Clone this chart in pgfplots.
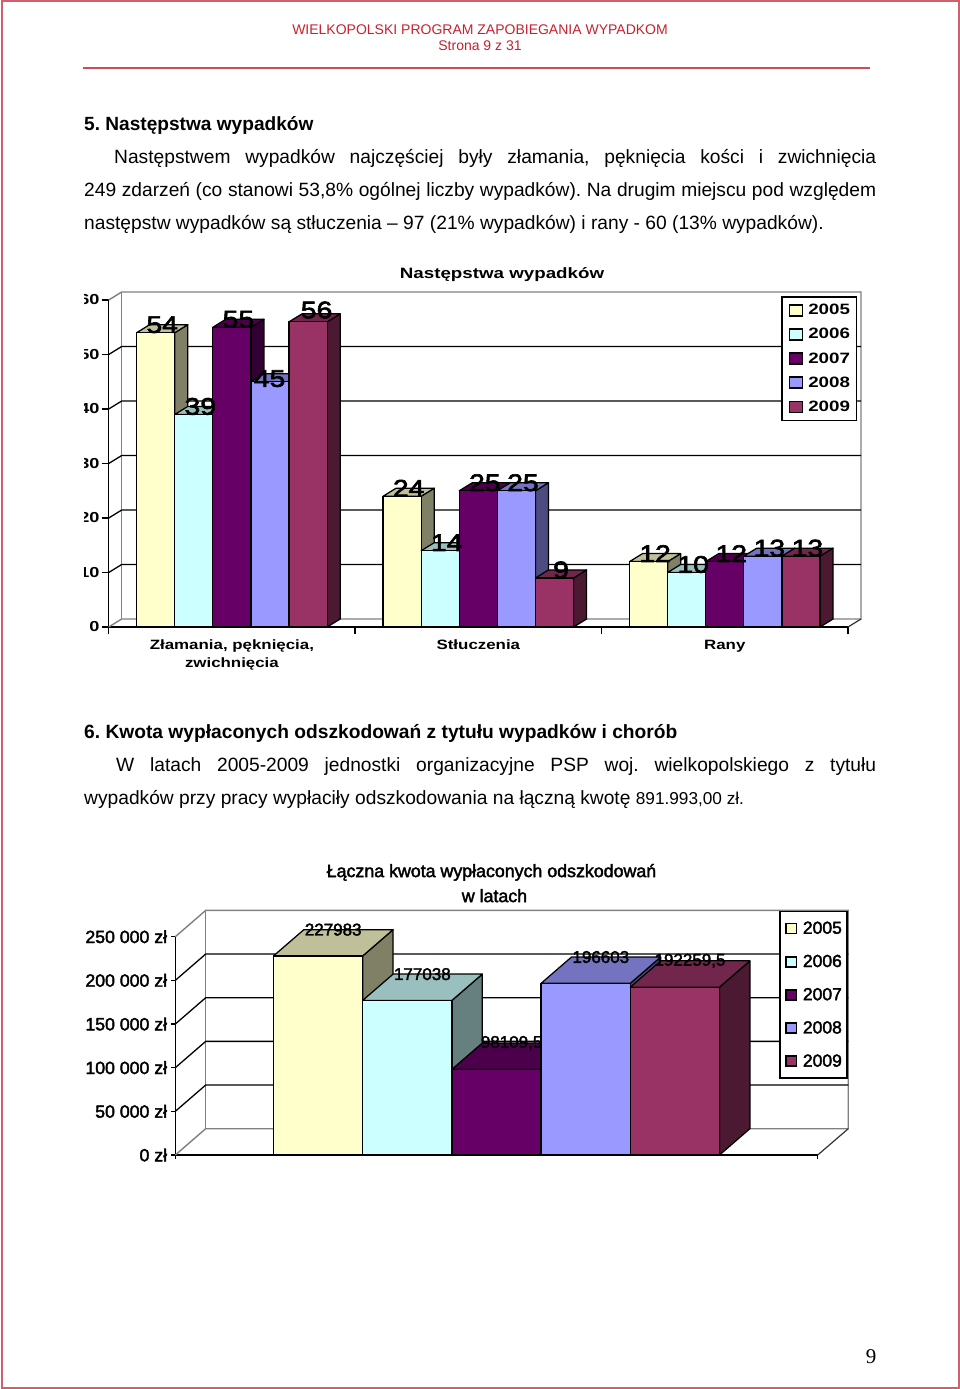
\documentclass[border=0pt]{standalone}
\usepackage{fontspec}
\usepackage{pgfplots}
\pgfplotsset{compat=1.18}
\setmainfont{Liberation Sans}
\newfontfamily\serifnum{Liberation Serif}
\newfontfamily\wideb[FakeStretch=1.25]{Liberation Sans Bold}
\newfontfamily\widev[FakeStretch=1.18,FakeBold=2.6]{Liberation Sans}
\newfontfamily\plainv[FakeBold=2.2]{Liberation Sans}
\definecolor{cA}{HTML}{FFFFCC}
\definecolor{cB}{HTML}{CCFFFF}
\definecolor{cC}{HTML}{660066}
\definecolor{cD}{HTML}{9999FF}
\definecolor{cE}{HTML}{993366}
\definecolor{wall}{HTML}{808080}
\definecolor{hdr}{HTML}{C8202F}
\definecolor{edge}{HTML}{D0606E}
\newcommand{\fs}[1]{\fontsize{#1}{#1}\selectfont}
% one box: left x, value, value + depth, width, dx, dy, colour
\newcommand{\boxthree}[7]{%
  \pgfmathsetmacro{\xb}{#1+#4}%
  \pgfmathsetmacro{\xc}{#1+#4+#5}%
  \pgfmathsetmacro{\xd}{#1+#5}%
  \addplot[forget plot,draw=black,line width=1.25pt,line join=round,fill=#7!50!black] coordinates {(\xb,0) (\xc,#6) (\xc,#3) (\xb,#2)} --cycle;
  \addplot[forget plot,draw=black,line width=1.25pt,line join=round,fill=#7!75!black] coordinates {(#1,#2) (\xb,#2) (\xc,#3) (\xd,#3)} --cycle;
  \addplot[forget plot,draw=black,line width=1.25pt,line join=round,fill=#7] coordinates {(#1,0) (\xb,0) (\xb,#2) (#1,#2)} --cycle;
}
% first chart: series number, colour, values of the three groups
\newcommand{\seriesA}[5]{%
  \pgfmathsetmacro{\xa}{0-0.3865+#1*0.1546}\pgfmathsetmacro{\vd}{#3+1.468}%
  \edef\tmp{\noexpand\boxthree{\xa}{#3}{\vd}{0.1546}{0.05276}{1.468}{#2}}\tmp
  \pgfmathsetmacro{\xa}{1-0.3865+#1*0.1546}\pgfmathsetmacro{\vd}{#4+1.468}%
  \edef\tmp{\noexpand\boxthree{\xa}{#4}{\vd}{0.1546}{0.05276}{1.468}{#2}}\tmp
  \pgfmathsetmacro{\xa}{2-0.3865+#1*0.1546}\pgfmathsetmacro{\vd}{#5+1.468}%
  \edef\tmp{\noexpand\boxthree{\xa}{#5}{\vd}{0.1546}{0.05276}{1.468}{#2}}\tmp
}
% labels: series number, three values, x and y nudge of the first label
\newcommand{\labelsA}[6]{%
  \pgfmathsetmacro{\xa}{0-0.3865+#1*0.1546+0.0773+0.0264+#5}\pgfmathsetmacro{\vd}{#2+1.468+#6}%
  \pgfmathsetmacro{\xe}{1-0.3865+#1*0.1546+0.0773+0.0264}\pgfmathsetmacro{\ve}{#3+1.468}%
  \pgfmathsetmacro{\xf}{2-0.3865+#1*0.1546+0.0773+0.0264}\pgfmathsetmacro{\vf}{#4+1.468}%
  \addplot[forget plot,draw=none,mark=none,nodes near coords,point meta=explicit symbolic] coordinates {(\xa,\vd) [#2] (\xe,\ve) [#3] (\xf,\vf) [#4]};
}
\begin{document}
\frenchspacing
\begin{tikzpicture}[x=1pt,y=-1pt]
\useasboundingbox (0,0) rectangle (960,1389);
\fill[white] (0,0) rectangle (960,1389);
\draw[edge,line width=2pt] (1.5,1.5) rectangle (958.5,1387.5);
% page text
\node[anchor=base,inner sep=0pt,text=hdr] at (480,35) {\fs{14}WIELKOPOLSKI PROGRAM ZAPOBIEGANIA WYPADKOM};
\node[anchor=base,inner sep=0pt,text=hdr] at (480,51) {\fs{14}Strona 9 z 31};
\draw[edge!70!hdr,line width=1.5pt] (83,68) -- (870,68);
\node[anchor=base west,inner sep=0pt] at (84,130) {\fs{19.1}\bfseries 5. Następstwa wypadków};
\node[anchor=base west,inner sep=0pt] at (114,163) {\fs{19.2}\makebox[762pt][s]{Następstwem wypadków najczęściej były złamania, pęknięcia kości i zwichnięcia}};
\node[anchor=base west,inner sep=0pt] at (84,196) {\fs{19.2}\makebox[792pt][s]{249 zdarzeń (co stanowi 53,8\% ogólnej liczby wypadków). Na drugim miejscu pod względem}};
\node[anchor=base west,inner sep=0pt] at (84,229) {\fs{19.2}następstw wypadków są stłuczenia – 97 (21\% wypadków) i rany - 60 (13\% wypadków).};
\node[anchor=base west,inner sep=0pt] at (84,738) {\fs{19.2}\bfseries 6. Kwota wypłaconych odszkodowań z tytułu wypadków i chorób};
\node[anchor=base west,inner sep=0pt] at (116,771) {\fs{19.2}\makebox[760pt][s]{W latach 2005-2009 jednostki organizacyjne PSP woj. wielkopolskiego z tytułu}};
\node[anchor=base west,inner sep=0pt] at (84,804) {\fs{19.2}wypadków przy pracy wypłaciły odszkodowania na łączną kwotę {\fs{17.2}891.993,00 zł.}};
\node[anchor=base,inner sep=0pt] at (871,1363) {\fs{21}\serifnum 9};

% first chart
\begin{axis}[
  at={(108.7pt,-627pt)},anchor=south west,
  scale only axis,width=739.3pt,height=327pt,clip=false,
  xmin=-0.5,xmax=2.5,ymin=0,ymax=60,
  axis lines=left,axis line style={-,black,line width=1.3pt},
  tick style={black,line width=1.3pt},major tick length=7pt,tick align=outside,
  xtick={-0.5,0.5,1.5,2.5},xticklabels={},
  extra x ticks={0,1,2},
  extra x tick labels={{Złamania, pęknięcia,\\zwichnięcia},Stłuczenia,Rany},
  extra x tick style={tick style={draw=none},xticklabel style={align=center,font=\wideb\fontsize{13.5}{18}\selectfont,inner sep=0pt,yshift=-6pt}},
  ytick={0,10,20,30,40,50,60},
  yticklabel style={font=\wideb\fs{14.5},inner sep=2pt},
  /pgf/number format/assume math mode=true,
  title={Następstwa wypadków},
  title style={at={(axis description cs:0.532,1.0582)},anchor=center,font=\wideb\fs{15},inner sep=0pt},
  every node near coord/.append style={anchor=center,inner sep=0pt,font=\widev\fs{24},text=black},
  legend cell align=left,
  legend image code/.code={\draw[#1] (0pt,-5.5pt) rectangle (13pt,5.5pt);\path (18pt,0pt);},
  legend style={at={(axis description cs:1.0126,1.0122)},anchor=north east,draw=black,line width=1.7pt,
    font=\wideb\fs{15},row sep=11.5pt,inner xsep=6.5pt,inner ysep=7pt,nodes={inner sep=0pt,line width=1pt}},
]
% walls and grid
\addplot[forget plot,wall,line width=1.4pt] coordinates {(-0.5,0) (-0.4472,1.468) (2.5528,1.468) (2.5528,61.468) (-0.4472,61.468) (-0.5,60)};
\addplot[forget plot,wall,line width=1.4pt] coordinates {(-0.4472,1.468) (-0.4472,61.468)};
\addplot[forget plot,black!80,line width=1.2pt] coordinates {(2.5,0) (2.5528,1.468)};
\addplot[forget plot,black,line width=1.3pt] coordinates {(-0.5,10) (-0.4472,11.468) (2.5528,11.468)};
\addplot[forget plot,black,line width=1.3pt] coordinates {(-0.5,20) (-0.4472,21.468) (2.5528,21.468)};
\addplot[forget plot,black,line width=1.3pt] coordinates {(-0.5,30) (-0.4472,31.468) (2.5528,31.468)};
\addplot[forget plot,black,line width=1.3pt] coordinates {(-0.5,40) (-0.4472,41.468) (2.5528,41.468)};
\addplot[forget plot,black,line width=1.3pt] coordinates {(-0.5,50) (-0.4472,51.468) (2.5528,51.468)};
% bars: 2005 to 2009, in the groups Złamania, Stłuczenia, Rany
\seriesA{0}{cA}{54}{24}{12}
\seriesA{1}{cB}{39}{14}{10}
\seriesA{2}{cC}{55}{25}{12}
\seriesA{3}{cD}{45}{25}{13}
\seriesA{4}{cE}{56}{9}{13}
\labelsA{0}{54}{24}{12}{0}{0}
\labelsA{1}{39}{14}{10}{0}{0}
\labelsA{2}{55}{25}{12}{0}{0}
\labelsA{3}{45}{25}{13}{-0.028}{-0.9}
\labelsA{4}{56}{9}{13}{0.008}{0.7}
\addlegendimage{draw=black,fill=cA}\addlegendentry{2005}
\addlegendimage{draw=black,fill=cB}\addlegendentry{2006}
\addlegendimage{draw=black,fill=cC}\addlegendentry{2007}
\addlegendimage{draw=black,fill=cD}\addlegendentry{2008}
\addlegendimage{draw=black,fill=cE}\addlegendentry{2009}
\end{axis}
% the reference's picture is cut off here
\fill[white] (70,285) rectangle (83.5,590);

% second chart
\begin{axis}[
  at={(175.3pt,-1155pt)},anchor=south west,
  scale only axis,width=642.4pt,height=218.3pt,clip=false,
  xmin=-0.5,xmax=0.5,ymin=0,ymax=250000,
  scaled y ticks=false,
  axis lines=left,axis line style={-,black,line width=1.3pt},
  tick style={black,line width=1.3pt},major tick length=4pt,tick align=outside,
  xtick={-0.5,0.5},xticklabels={},
  ytick={0,50000,100000,150000,200000,250000},
  yticklabels={0 zł,50 000 zł,100 000 zł,150 000 zł,200 000 zł,250 000 zł},
  yticklabel style={font=\plainv\fs{17.7},inner sep=2pt,xshift=-2pt},
  title={Łączna kwota wypłaconych odszkodowań\\\hspace*{6pt}w latach},
  title style={at={(axis description cs:0.4922,1.218)},anchor=center,align=center,font=\plainv\fontsize{17.8}{25}\selectfont,inner sep=0pt},
  every node near coord/.append style={anchor=center,inner sep=0pt,font=\plainv\fs{17},text=black},
  legend cell align=left,
  legend image code/.code={\draw[#1] (0pt,-5pt) rectangle (10.5pt,5pt);\path (16pt,0pt);},
  legend style={at={(axis description cs:1.0467,1.119)},anchor=north east,draw=black,line width=1.7pt,
    font=\plainv\fs{17.5},row sep=19.5pt,inner xsep=5pt,inner ysep=10pt,nodes={inner sep=0pt,line width=1pt}},
]
\addplot[forget plot,wall,line width=1.4pt] coordinates {(-0.5,0) (-0.4527,30119) (0.5476,30119) (0.5476,280119) (-0.4527,280119) (-0.5,250000)};
\addplot[forget plot,wall,line width=1.4pt] coordinates {(-0.4527,30119) (-0.4527,280119)};
\addplot[forget plot,black!80,line width=1.2pt] coordinates {(0.5,0) (0.5476,30119)};
\addplot[forget plot,black,line width=1.3pt] coordinates {(-0.5,50000) (-0.4527,80119) (0.5476,80119)};
\addplot[forget plot,black,line width=1.3pt] coordinates {(-0.5,100000) (-0.4527,130119) (0.5476,130119)};
\addplot[forget plot,black,line width=1.3pt] coordinates {(-0.5,150000) (-0.4527,180119) (0.5476,180119)};
\addplot[forget plot,black,line width=1.3pt] coordinates {(-0.5,200000) (-0.4527,230119) (0.5476,230119)};
\boxthree{-0.34713}{227983}{258102}{0.13885}{0.04732}{30119}{cA}
\boxthree{-0.20828}{177038}{207157}{0.13885}{0.04732}{30119}{cB}
\boxthree{-0.06943}{98109.5}{128228.5}{0.13885}{0.04732}{30119}{cC}
\boxthree{0.06942}{196603}{226722}{0.13885}{0.04732}{30119}{cD}
\boxthree{0.20827}{192259.5}{222378.5}{0.13885}{0.04732}{30119}{cE}
\addplot[forget plot,draw=none,mark=none,nodes near coords,point meta=explicit symbolic] coordinates {
 (-0.2542,258102) [227983]
 (-0.1154,207157) [177038]
 (0.0235,128228.5) [{98109,5}]
 (0.1624,226722) [196603]
 (0.3012,222378.5) [{192259,5}]
};
\addlegendimage{draw=black,fill=cA}\addlegendentry{2005}
\addlegendimage{draw=black,fill=cB}\addlegendentry{2006}
\addlegendimage{draw=black,fill=cC}\addlegendentry{2007}
\addlegendimage{draw=black,fill=cD}\addlegendentry{2008}
\addlegendimage{draw=black,fill=cE}\addlegendentry{2009}
\end{axis}
\end{tikzpicture}
\end{document}
